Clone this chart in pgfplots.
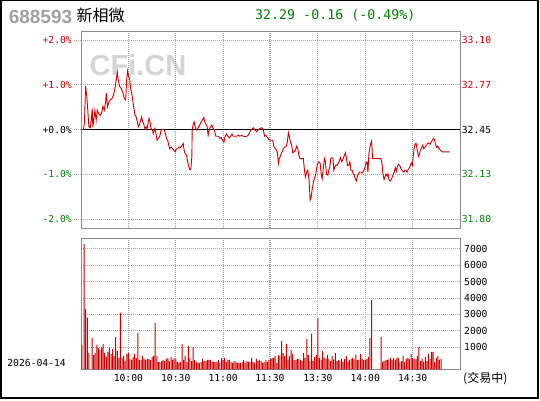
\documentclass[border=0pt]{standalone}
\usepackage{pgfplots}
\usepackage{pgfplotstable}
\pgfplotsset{compat=1.18}
\usepackage{fontspec}
\setmainfont{DejaVu Sans}
\newfontfamily\monofont{DejaVu Sans Mono}
\newfontfamily\cjk{Noto Sans CJK SC}
\newfontfamily\lsans{Liberation Sans}
\newcommand\tickfont{\monofont\fontsize{9.7pt}{11pt}\selectfont}
\definecolor{cred}{RGB}{204,0,0}
\definecolor{cgreen}{RGB}{0,128,0}
\definecolor{cgrid}{RGB}{165,165,165}
\definecolor{cbox}{RGB}{140,140,140}
\definecolor{cwm}{RGB}{212,212,212}
\definecolor{chdr}{RGB}{160,160,160}

\pgfplotstableread{
m p
0 0.00
1.6 0.00
2.2 0.17
2.9 0.97
3.7 0.73
4.3 0.43
5.0 0.06
5.8 0.04
6.5 0.21
7.1 0.47
7.5 0.06
8.1 0.21
8.8 0.43
9.6 0.21
10.3 0.43
11.1 0.36
12.2 0.32
13.0 0.36
13.9 0.52
14.7 0.43
15.6 0.62
16.0 0.81
16.8 0.51
17.7 0.62
18.5 0.66
19.6 0.69
20.6 0.77
21.5 0.92
22.3 1.10
23.0 1.29
23.6 1.10
24.4 0.96
25.5 0.92
26.6 0.81
27.4 0.69
28.3 0.66
28.9 1.10
29.5 1.31
30.2 1.18
30.8 1.14
31.4 0.92
32.3 0.77
32.9 0.62
33.5 0.47
34.2 0.32
35.0 0.28
35.7 0.17
36.3 0.06
36.9 0.10
37.8 0.21
38.4 0.28
39.0 0.17
39.7 0.13
40.3 0.02
41.2 0.06
41.8 0.00
42.4 0.13
43.1 0.25
43.7 0.17
44.3 0.02
45.2 -0.01
45.8 -0.09
46.7 0.02
47.5 -0.09
48.1 -0.24
49.0 -0.20
49.8 -0.16
50.5 -0.05
51.1 0.00
52.0 0.00
52.8 -0.01
53.4 -0.09
54.1 -0.20
54.9 -0.24
55.6 -0.35
56.2 -0.43
57.0 -0.39
57.9 -0.43
58.7 -0.46
59.6 -0.50
60.4 -0.43
61.3 -0.43
62.1 -0.39
63.0 -0.40
63.8 -0.37
64.7 -0.31
65.3 -0.46
65.9 -0.54
66.8 -0.57
67.4 -0.69
68.0 -0.80
68.9 -0.90
69.5 -0.90
70.2 -0.61
70.4 0.00
71.0 0.10
71.6 0.17
72.3 0.06
72.9 -0.01
73.5 0.00
74.4 0.06
75.2 0.10
76.1 0.17
76.9 0.21
77.8 0.27
78.4 0.17
79.0 0.13
79.9 0.06
80.5 -0.13
81.2 -0.01
82.0 0.06
82.9 0.10
83.7 0.02
84.5 -0.01
85.4 -0.15
86.2 -0.15
87.1 -0.15
88.0 -0.20
88.8 -0.18
89.6 -0.24
90.5 -0.28
91.3 -0.15
92.2 -0.10
93.0 -0.15
93.9 -0.19
94.7 -0.15
95.6 -0.10
96.4 -0.15
97.5 -0.15
98.5 -0.15
99.8 -0.13
100.6 -0.15
101.7 -0.13
102.8 -0.15
103.8 -0.16
104.9 -0.15
105.9 -0.13
107.0 -0.05
108.0 0.00
109.1 0.04
110.2 -0.01
111.2 -0.05
112.3 0.00
113.3 0.02
114.4 0.04
115.4 -0.01
116.3 -0.15
117.1 -0.13
118.0 -0.18
119.0 -0.22
120.1 -0.24
121.4 -0.24
122.2 -0.39
123.3 -0.43
124.3 -0.50
125.0 -0.76
125.6 -0.65
126.5 -0.57
127.3 -0.50
128.1 -0.43
129.0 -0.39
129.8 -0.39
130.7 -0.28
131.3 -0.07
131.9 -0.15
132.6 -0.28
133.4 -0.35
134.1 -0.52
134.9 -0.50
135.8 -0.46
136.6 -0.37
137.3 -0.43
137.9 -0.57
138.7 -0.65
139.8 -0.65
140.8 -0.65
141.5 -0.91
142.1 -1.06
143.0 -0.95
143.6 -0.91
144.4 -1.13
145.1 -1.58
145.7 -1.51
146.3 -1.36
147.2 -1.17
147.8 -1.10
148.7 -0.99
149.3 -0.84
149.9 -0.76
150.6 -0.72
151.4 -0.75
152.1 -0.99
152.7 -1.10
153.5 -0.84
154.2 -0.65
154.8 -0.72
155.4 -0.99
156.3 -1.02
156.9 -0.91
157.6 -0.84
158.2 -0.65
158.8 -0.63
159.5 -0.63
160.1 -0.91
160.7 -0.84
161.4 -0.80
162.0 -0.80
162.9 -0.76
163.7 -0.69
164.3 -0.63
165.2 -0.72
166.0 -0.65
166.9 -0.57
167.5 -0.52
168.1 -0.65
168.8 -0.80
169.6 -0.80
170.3 -0.72
170.9 -0.91
171.7 -0.91
172.4 -1.00
173.0 -1.00
173.6 -1.10
174.3 -1.15
174.9 -1.06
175.6 -1.00
176.4 -0.95
177.2 -0.95
178.1 -0.97
178.9 -0.93
179.6 -0.87
180.4 -0.75
181.1 -0.72
181.7 -0.95
182.3 -0.55
183.2 -0.35
184.0 -0.26
184.7 -0.65
189.9 -0.65
190.6 -0.76
191.2 -0.99
191.9 -1.12
192.5 -1.06
193.1 -0.99
193.8 -1.04
194.4 -0.99
195.0 -1.12
195.7 -1.15
196.5 -1.12
197.1 -1.06
197.8 -0.99
198.4 -0.95
199.0 -0.85
199.7 -0.93
200.5 -0.80
201.2 -0.78
201.8 -0.80
202.4 -0.85
203.1 -0.90
203.9 -0.93
204.5 -0.95
205.2 -0.91
205.8 -0.91
206.5 -0.95
207.1 -0.90
207.7 -0.87
208.6 -0.80
209.2 -0.75
209.8 -0.80
210.3 -0.63
210.9 -0.43
211.5 -0.33
212.2 -0.31
212.8 -0.43
213.6 -0.60
214.3 -0.55
214.9 -0.46
215.8 -0.40
216.4 -0.35
217.0 -0.43
217.9 -0.39
218.5 -0.37
219.4 -0.31
220.2 -0.30
221.1 -0.33
221.7 -0.28
222.3 -0.25
223.2 -0.20
223.8 -0.22
224.4 -0.31
225.1 -0.40
225.9 -0.37
226.8 -0.43
227.6 -0.46
228.7 -0.50
233.5 -0.50
}\pricetab

\pgfplotstableread{
m v
0.6 1480
2 7620
3 3670
4 3140
5 990
7 1905
8 870
9 990
10 1480
11 1300
12 1175
13 1320
14 1540
15 990
16 750
17 1055
18 1300
19 930
20 1235
21 800
22 1965
23 1115
24 690
25 3430
26 700
27 810
28 505
29 930
30 990
31 630
32 570
33 750
34 930
35 700
36 2210
37 570
38 570
39 810
40 630
41 570
42 630
43 630
44 570
45 750
46 810
47 2820
48 810
49 445
50 445
51 505
52 570
53 505
54 630
55 690
56 505
57 750
58 570
59 690
60 630
61 445
62 385
63 445
64 1540
65 570
66 810
67 445
68 1420
69 690
70 500
71 1360
72 570
73 445
74 385
75 385
76 445
77 630
78 505
79 505
80 570
81 570
82 570
83 445
84 445
85 445
86 445
87 570
88 385
89 690
90 570
91 690
92 445
93 570
94 570
95 445
96 385
97 505
98 445
99 385
100 385
101 385
102 450
103 570
104 385
105 505
106 445
107 445
108 690
109 445
110 385
111 630
112 505
113 570
114 505
115 385
116 450
117 570
118 445
119 570
120 630
121 690
122 690
123 810
124 385
125 870
126 810
127 1720
128 990
129 810
130 1540
131 570
132 810
133 1175
134 930
135 570
136 570
137 630
138 630
139 570
140 505
141 990
142 690
143 1845
144 870
145 505
146 2150
147 505
148 750
149 870
150 3120
151 690
152 570
153 1115
154 690
155 630
156 870
157 630
158 505
159 810
160 600
161 990
162 505
163 570
164 505
165 630
166 445
167 630
168 810
169 445
170 570
171 630
172 690
173 600
174 870
175 570
176 570
177 930
178 630
179 570
180 570
181 630
182 750
183 1905
184 4215
190 1965
191 445
192 505
193 570
194 570
195 600
196 690
197 570
198 690
199 570
200 690
201 690
202 445
203 500
204 810
205 445
206 630
207 690
208 630
209 930
210 690
211 630
212 600
213 810
214 1360
215 505
216 630
217 445
218 750
219 505
220 930
221 630
222 1055
223 1055
224 445
225 690
226 810
227 570
228 630
}\voltab

\begin{document}
\begin{tikzpicture}
\path[use as bounding box] (0pt,0pt) rectangle (540pt,400pt);
% header
\node[anchor=west, inner sep=0pt, font={\lsans\bfseries\fontsize{19pt}{22pt}\selectfont}, text=chdr] at (8.6pt,383pt) {688593};
\node[anchor=west, inner sep=0pt, font={\cjk\fontsize{16pt}{18pt}\selectfont}] at (76.5pt,385pt) {新相微};
\node[anchor=west, inner sep=0pt, font={\monofont\fontsize{13.3pt}{15pt}\selectfont}, text=cgreen] at (255pt,384.5pt) {32.29 -0.16 (-0.49\%)};
% watermark
\node[anchor=center, inner sep=0pt, font={\lsans\bfseries\fontsize{29pt}{32pt}\selectfont}, text=cwm] at (138pt,335pt) {CFi.CN};

% upper price panel (percent)
\begin{axis}[
  at={(81pt,172pt)}, anchor=south west, scale only axis,
  width=379pt, height=197pt,
  xmin=0, xmax=240, ymin=-2.2, ymax=2.2,
  axis line style={cbox, line width=1pt},
  xtick={30,60,90,119,120.2,150,180,210}, xticklabels={},
  xtick style={draw=none},
  ytick={-2,-1,0,1,2},
  yticklabels={\textcolor{cgreen}{-2.0\%},\textcolor{cgreen}{-1.0\%},+0.0\%,\textcolor{cred}{+1.0\%},\textcolor{cred}{+2.0\%}},
  ytick pos=left, tick align=outside, major tick length=7pt,
  ytick style={cgrid, line width=0.8pt, dash pattern=on 1pt off 1pt},
  grid=major,
  grid style={cgrid, line width=0.8pt, dash pattern=on 1pt off 1pt},
  yticklabel style={font=\tickfont, inner sep=0pt, anchor=east, xshift=-2pt},
]
\addplot[black, line width=1.4pt] coordinates {(0,0) (240,0)};
\addplot[cred, line width=0.9pt] table[x=m,y=p] {\pricetab};
\end{axis}

% right price labels
\begin{axis}[
  at={(81pt,172pt)}, anchor=south west, scale only axis,
  width=379pt, height=197pt,
  xmin=0, xmax=240, ymin=-2.2, ymax=2.2,
  axis x line=none, axis y line*=right,
  axis line style={cbox, line width=1pt},
  ytick={-2,-1,0,1,2},
  yticklabels={\textcolor{cgreen}{31.80},\textcolor{cgreen}{32.13},32.45,\textcolor{cred}{32.77},\textcolor{cred}{33.10}},
  ytick style={draw=none},
  yticklabel style={font=\tickfont, inner sep=0pt, anchor=west, xshift=1.7pt},
]
\addplot[draw=none] coordinates {(0,0)};
\end{axis}

% lower volume panel
\begin{axis}[
  at={(81pt,30.7pt)}, anchor=south west, scale only axis,
  width=379pt, height=131pt,
  xmin=0, xmax=240, ymin=0, ymax=7973,
  axis line style={cbox, line width=1pt},
  xtick={30,60,90,119,120.2,150,180,210},
  xticklabels={10:00,10:30,11:00,,,13:30,14:00,14:30},
  extra x ticks={119.6}, extra x tick labels={11:30},
  extra x tick style={grid=none},
  tick style={draw=none},
  ytick={1340,2340,3340,4340,5340,6340,7340},
  yticklabels={1000,2000,3000,4000,5000,6000,7000},
  yticklabel pos=right,
  scaled y ticks=false,
  grid=major,
  grid style={cgrid, line width=0.8pt, dash pattern=on 1pt off 1pt},
  xticklabel style={font=\tickfont, inner sep=0pt, anchor=north, yshift=-4.5pt},
  yticklabel style={font=\tickfont, inner sep=0pt, anchor=west, xshift=4pt},
]
\addplot[ybar, bar width=1pt, fill=cred, draw=none] table[x=m,y=v] {\voltab};
\end{axis}

\node[anchor=east, inner sep=0pt, font=\tickfont] at (66pt,37.3pt) {2026-04-14};
\node[anchor=west, inner sep=0pt, font={\cjk\fontsize{12pt}{14pt}\selectfont}] at (463pt,21pt) {(交易中)};

% outer frame
\draw[line width=2pt] (1pt,1.7pt) rectangle (538.3pt,399.5pt);
\end{tikzpicture}
\end{document}
